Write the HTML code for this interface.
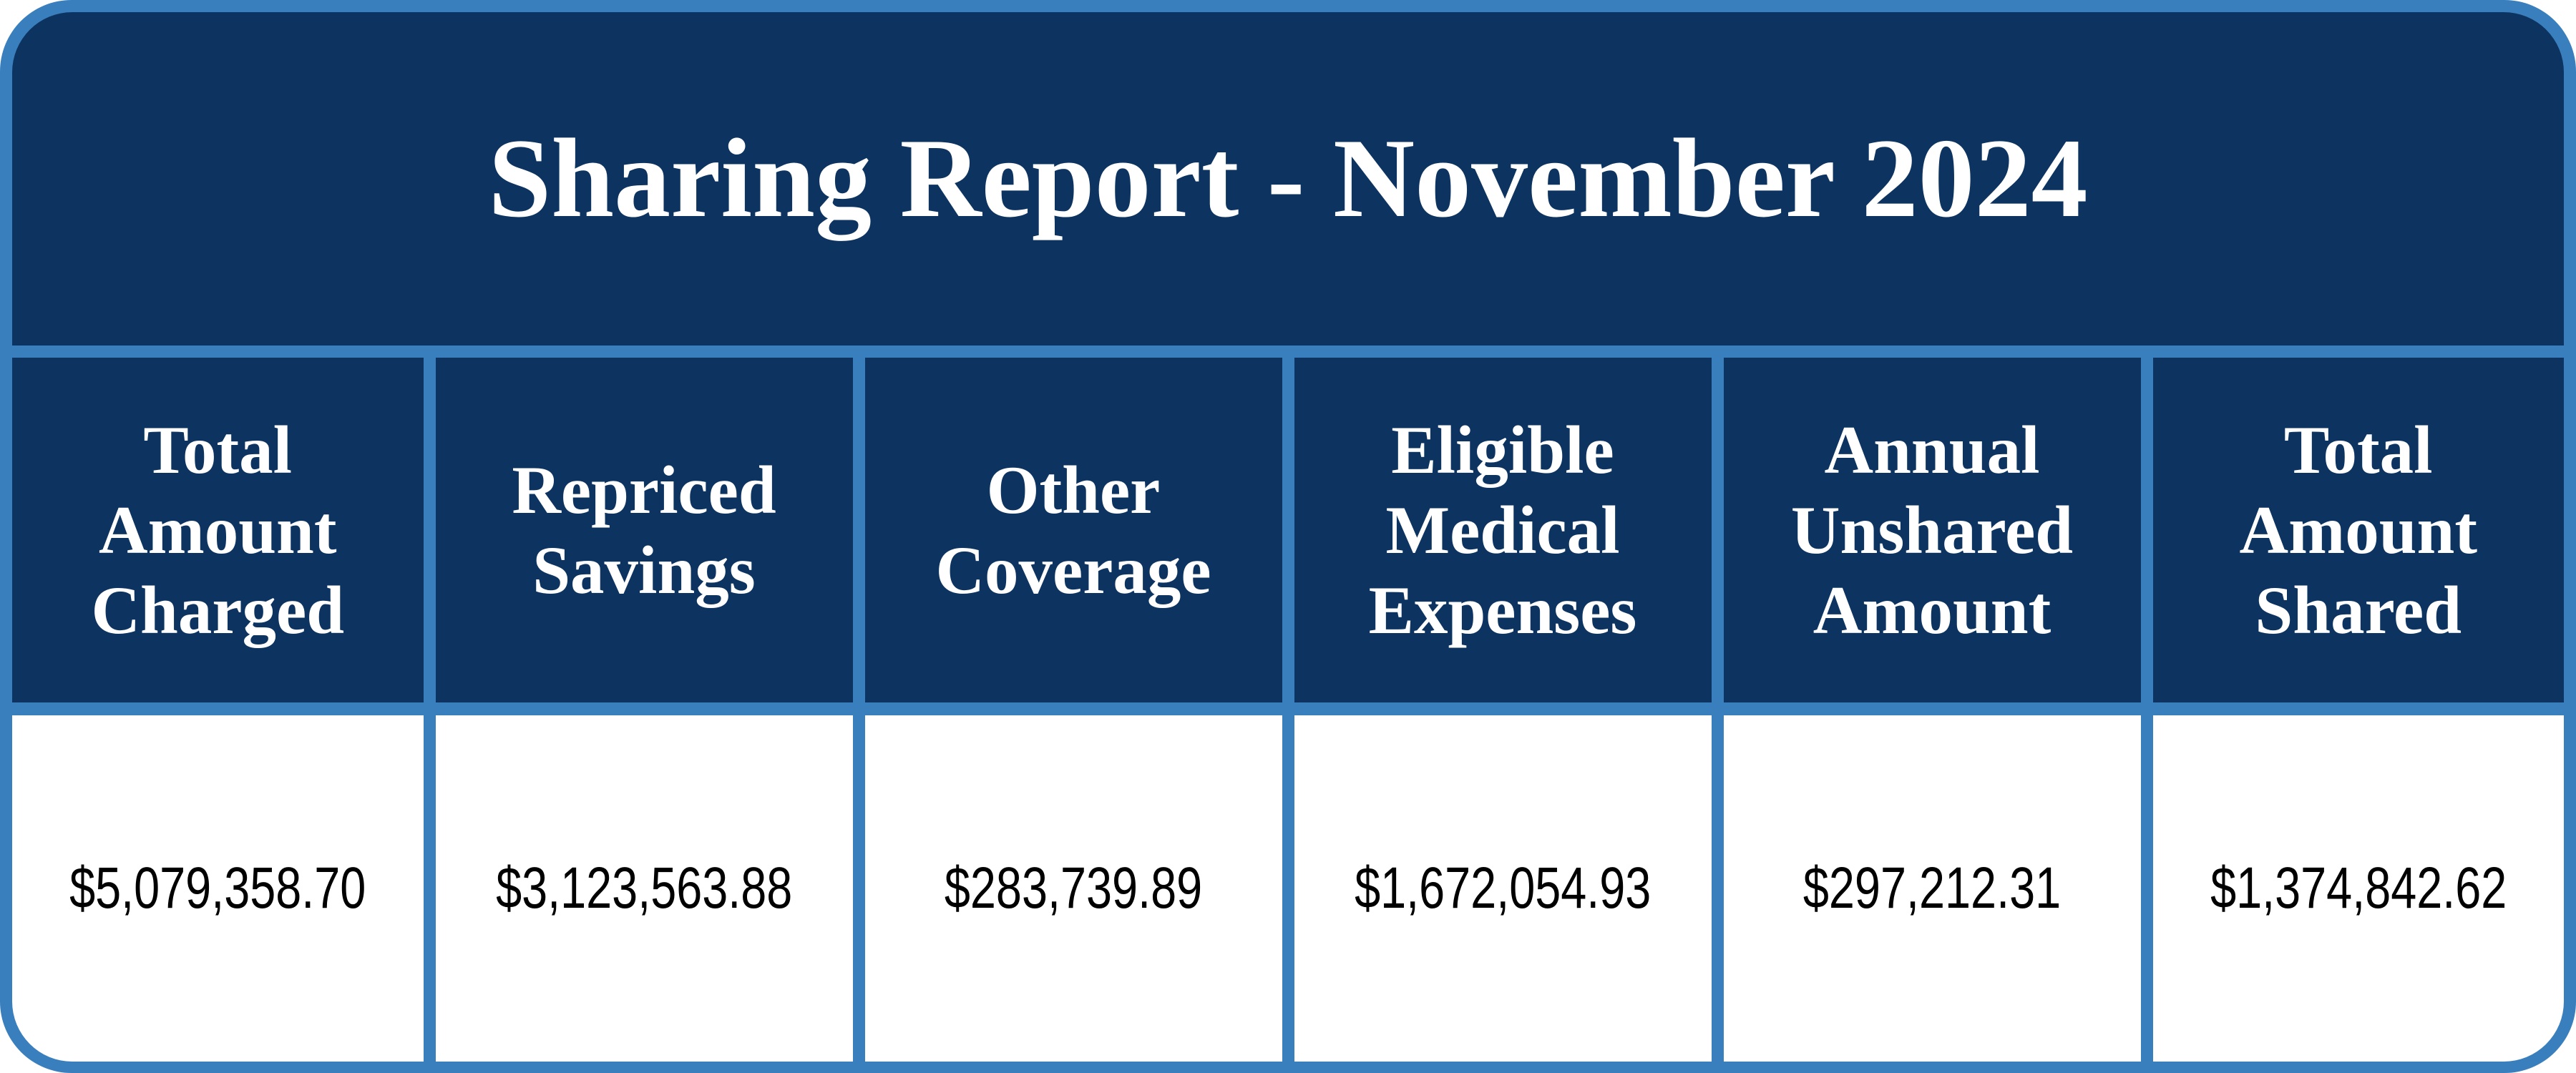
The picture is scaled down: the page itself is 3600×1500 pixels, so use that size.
<!DOCTYPE html>
<html><head><meta charset="utf-8"><style>
html,body{margin:0;padding:0;background:#fff;}
#card{position:relative;width:3600px;height:1500px;background:#3a7fbd;border-radius:100px;overflow:hidden;}
.title{position:absolute;left:17px;top:17px;width:3566px;height:466px;background:#0d3461;border-radius:84px 84px 0 0;display:flex;align-items:center;justify-content:center;color:#fff;font-family:"Liberation Serif",serif;font-weight:bold;font-size:158px;}
.hd{position:absolute;top:500px;height:482px;background:#0d3461;color:#fff;font-family:"Liberation Serif",serif;font-weight:bold;font-size:95px;line-height:112px;display:flex;align-items:center;justify-content:center;text-align:center;}
.vl{position:absolute;top:1000px;height:484px;background:#fff;color:#000;display:flex;align-items:center;justify-content:center;font-family:"Liberation Sans",sans-serif;font-size:82px;}
.vl span{display:inline-block;transform:scaleX(0.79);white-space:nowrap;}
</style></head><body>
<div id="card">
<div class="title">Sharing Report - November 2024</div>
</div>
<script>
const headers=["Total<br>Amount<br>Charged","Repriced<br>Savings","Other<br>Coverage","Eligible<br>Medical<br>Expenses","Annual<br>Unshared<br>Amount","Total<br>Amount<br>Shared"];
const values=["$5,079,358.70","$3,123,563.88","$283,739.89","$1,672,054.93","$297,212.31","$1,374,842.62"];
const names=["total-amount-charged","repriced-savings","other-coverage","eligible-medical-expenses","annual-unshared-amount","total-amount-shared"];
const card=document.getElementById('card');
const W=3600/6;
for(let i=0;i<6;i++){
  const l=i===0?17:W*i+8.5, r=i===5?3583:W*(i+1)-8.5;
  const h=document.createElement('div');
  h.className='hd';
  h.style.left=l+'px';h.style.width=(r-l)+'px';
  h.innerHTML=headers[i];
  
  
  card.appendChild(h);
  const v=document.createElement('div');
  v.className='vl';
  v.style.left=l+'px';v.style.width=(r-l)+'px';
  if(i===0)v.style.borderBottomLeftRadius='84px';
  if(i===5)v.style.borderBottomRightRadius='84px';
  v.innerHTML='<span>'+values[i]+'</span>';
  
  
  card.appendChild(v);
}
</script>
</body></html>
